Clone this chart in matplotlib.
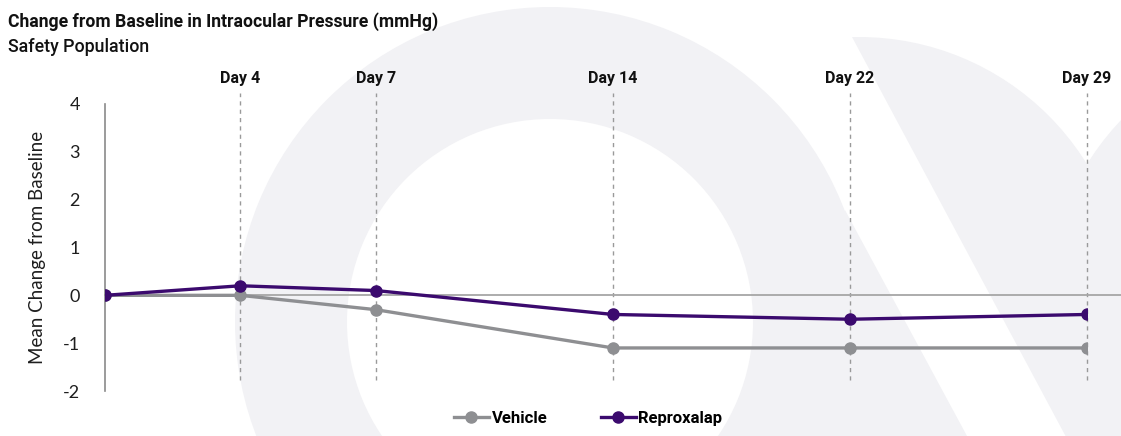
import matplotlib
matplotlib.use("Agg")
import matplotlib.pyplot as plt
import numpy as np
from matplotlib import font_manager
from matplotlib.lines import Line2D
from matplotlib.patches import Wedge, Circle, Polygon
from matplotlib.scale import FuncScale

# visits and mean change from baseline (mmHg)
days = [0, 4, 7, 14, 22, 29]
day_labels = ["Day 4", "Day 7", "Day 14", "Day 22", "Day 29"]
vehicle = [0.0, 0.0, -0.3, -1.1, -1.1, -1.1]
reproxalap = [0.0, 0.2, 0.1, -0.4, -0.5, -0.4]

# spacing of the visits along the time axis (not proportional to days)
slots = [0, 1, 2, 3.75, 5.5, 7.25]

installed = {f.name for f in font_manager.fontManager.ttflist}
narrow = "Liberation Sans Narrow" if "Liberation Sans Narrow" in installed else "Roboto"
body = "Lato" if "Lato" in installed else "Open Sans"

plt.rcParams["axes.unicode_minus"] = False

purple = "#3b0a6e"
grey = "#8e8f92"
wm = "#f2f2f5"

fig = plt.figure(figsize=(11.21, 4.36), dpi=100)

# faint logo in the background, drawn in pixel units
bg = fig.add_axes([0, 0, 1, 1], zorder=0)
bg.set_xlim(0, 1121)
bg.set_ylim(436, 0)
bg.axis("off")
bg.add_patch(Wedge((550, 322), 315, 0, 360, width=112, color=wm, lw=0))
bg.add_patch(Polygon([(845, 210), (967, 436), (790, 436), (800, 300)], color=wm, lw=0))
disk = Circle((859, 305), 268, color=wm, lw=0)
bg.add_patch(disk)
disk.set_clip_path(Polygon([(852, 37), (1073, 450), (1121, 450), (1121, 0), (832, 0)],
                           transform=bg.transData))
bg.add_patch(Circle((1315, 305), 268, color=wm, lw=0))

ax = fig.add_axes([105 / 1121, 45 / 436, 982 / 1121, 287 / 436], zorder=1)
ax.patch.set_alpha(0)

fwd = lambda d: np.interp(d, days, slots)
inv = lambda s: np.interp(s, slots, days)
ax.set_xscale(FuncScale(ax, (fwd, inv)))
ax.set_xlim(0, 29)
ax.set_ylim(-2, 4)

# dashed guides at each visit and the zero reference
ax.vlines(days[1:], -1.77, 4.23, colors="#9a9a9a", linestyles=(0, (3, 3)), lw=1.0, clip_on=False, zorder=1)
ax.axhline(0, xmin=0, xmax=1016 / 982, color="#a6a6a6", lw=1.3, clip_on=False, zorder=1)

ax.plot(days, vehicle, color=grey, lw=2.4, marker="o", ms=8, zorder=3, label="Vehicle")
ax.plot(days, reproxalap, color=purple, lw=2.4, marker="o", ms=8, zorder=4, label="Reproxalap")

for s in ["top", "right", "bottom"]:
    ax.spines[s].set_visible(False)
ax.spines["left"].set_color("#8a8a8a")
ax.spines["left"].set_linewidth(1.2)

ax.set_yticks(range(-2, 5))
ax.tick_params(axis="y", length=0, pad=18, labelsize=13, labelcolor="#1e1e1e")
for t in ax.get_yticklabels():
    t.set_fontfamily(body)

ax.xaxis.tick_top()
ax.set_xticks(days[1:])
ax.set_xticklabels(day_labels, fontfamily=narrow, fontweight="bold", fontsize=11.5, color="#111111")
ax.tick_params(axis="x", length=0, pad=13)
ax.xaxis.set_minor_locator(matplotlib.ticker.NullLocator())

ax.set_ylabel("Mean Change from Baseline", fontfamily=body, fontsize=13.5, color="#1e1e1e", labelpad=12)

fig.text(8 / 1121, 1 - 22 / 436, "Change from Baseline in Intraocular Pressure (mmHg)",
         fontfamily=narrow, fontweight="bold", fontsize=12.7, color="#111111", va="center")
fig.text(8 / 1121, 1 - 47 / 436, "Safety Population",
         fontfamily=narrow, fontweight="medium", fontsize=12.8, color="#111111", va="center")

handles = [Line2D([], [], color=grey, lw=2.4, marker="o", ms=8),
           Line2D([], [], color=purple, lw=2.4, marker="o", ms=8)]
fig.legend(handles, ["Vehicle", "Reproxalap"], loc="center", bbox_to_anchor=(588 / 1121, 1 - 418 / 436),
           ncol=2, frameon=False, handlelength=2.1, handletextpad=0.15, columnspacing=3.2,
           prop={"family": narrow, "weight": "bold", "size": 12})

fig.savefig("out.png", dpi=100)
